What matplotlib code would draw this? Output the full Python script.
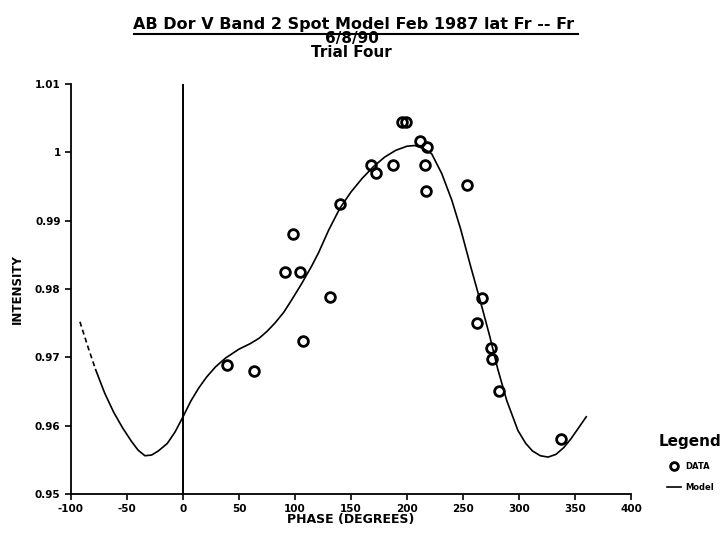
import numpy as np
import matplotlib
matplotlib.use("Agg")
import matplotlib.pyplot as plt

phase = [38.9, 63.4, 91.4, 98.1, 104.7, 106.8, 131.4, 140.3, 167.9, 172.6,
         187.1, 195.1, 199.0, 211.5, 218.2, 216.2, 216.8, 253.3, 266.9, 262.5,
         274.6, 276.1, 282.0, 337.5]
intensity = [0.9689, 0.9680, 0.9825, 0.9880, 0.9825, 0.9724, 0.9788, 0.9925,
             0.9981, 0.9970, 0.9981, 1.0044, 1.0044, 1.0017, 1.0008, 0.9981,
             0.9944, 0.9952, 0.9787, 0.9750, 0.9714, 0.9697, 0.9651, 0.9580]

# model curve
model_phase = [-92, -85, -78, -70, -62, -54, -46, -40, -34, -28, -22, -14, -7, 0,
               7, 14, 21, 29, 38, 50, 60, 68, 75, 82, 90, 97, 106, 115, 121,
               130, 140, 150, 160, 170, 180, 190, 200, 207, 214, 222, 231,
               240, 248, 257, 266, 274, 281, 289, 299, 306, 312, 319, 326,
               333, 340, 346, 352, 360]
model_int = [0.9752, 0.9716, 0.9682, 0.9648, 0.9620, 0.9597, 0.9577, 0.9564,
             0.9556, 0.9557, 0.9563, 0.9574, 0.9591, 0.9613,
             0.9636, 0.9655, 0.9671, 0.9686, 0.9699, 0.9712, 0.9720, 0.9728,
             0.9738, 0.9750, 0.9766, 0.9784, 0.9808, 0.9834, 0.9853,
             0.9886, 0.9918, 0.9942, 0.9962, 0.9979, 0.9993, 1.0003, 1.0009,
             1.0010, 1.0006, 0.9998, 0.9969,
             0.9930, 0.9887, 0.9832, 0.9779, 0.9730, 0.9683, 0.9637, 0.9593,
             0.9574, 0.9563, 0.9556, 0.9554, 0.9558, 0.9568, 0.9580, 0.9594, 0.9613]

xticks = [-100, -50, 0, 50, 100, 150, 200, 250, 300, 350, 400]
yticks = [0.95, 0.96, 0.97, 0.98, 0.99, 1.0, 1.01]
ytick_labels = ["0.95", "0.96", "0.97", "0.98", "0.99", "1", "1.01"]

plt.rcParams['font.family'] = ['DejaVu Sans']
plt.rcParams['font.weight'] = 'bold'

fig = plt.figure(figsize=(7.28, 5.4), dpi=100)
ax = fig.add_axes([0.0975, 0.0852, 0.7693, 0.7592])

ax.axvline(0, color='black', lw=1.4)

# first bit of the model is dashed on the original
ax.plot(model_phase[:3], model_int[:3], color='black', lw=1.2, ls=(0, (3, 2)))
ax.plot(model_phase[2:], model_int[2:], color='black', lw=1.2, label='Model',
        solid_joinstyle='round')
ax.plot(phase, intensity, 'o', ms=7, mfc='none', mec='black', mew=2, label='DATA')

ax.set_xlim(-100, 400)
ax.set_ylim(0.95, 1.01)
ax.set_xticks(xticks)
ax.set_xticklabels([str(t) for t in xticks], fontsize=7.5, fontweight='bold')
ax.set_yticks(yticks)
ax.set_yticklabels(ytick_labels, fontsize=7.5, fontweight='bold')
ax.tick_params(direction='out', length=4, width=1.2)
for s in ['top', 'right']:
    ax.spines[s].set_visible(False)
for s in ['left', 'bottom']:
    ax.spines[s].set_linewidth(1.3)

ax.set_xlabel("PHASE (DEGREES)", fontsize=9, fontweight='bold', labelpad=-1)
ax.set_ylabel("INTENSITY", fontsize=8.5, fontweight='bold', labelpad=8)

fig.text(0.486, 0.955, "AB Dor V Band 2 Spot Model Feb 1987 lat Fr -- Fr",
         ha='center', va='center', fontsize=11.5, fontweight='bold')
fig.add_artist(plt.Line2D([0.184, 0.794], [0.937, 0.937], color='black', lw=1.5))
fig.text(0.483, 0.928, "6/8/90", ha='center', va='center', fontsize=11, fontweight='bold')
fig.text(0.483, 0.902, "Trial Four", ha='center', va='center', fontsize=11, fontweight='bold')

handles, labels = ax.get_legend_handles_labels()
leg = fig.legend(handles[::-1], labels[::-1], loc='upper left', bbox_to_anchor=(0.895, 0.21),
                 frameon=False, title="Legend", fontsize=6, title_fontsize=11,
                 handlelength=1.6, handletextpad=0.5, labelspacing=1.5, markerscale=0.8)
leg.get_title().set_fontweight('bold')

fig.savefig("out.png", dpi=100)
